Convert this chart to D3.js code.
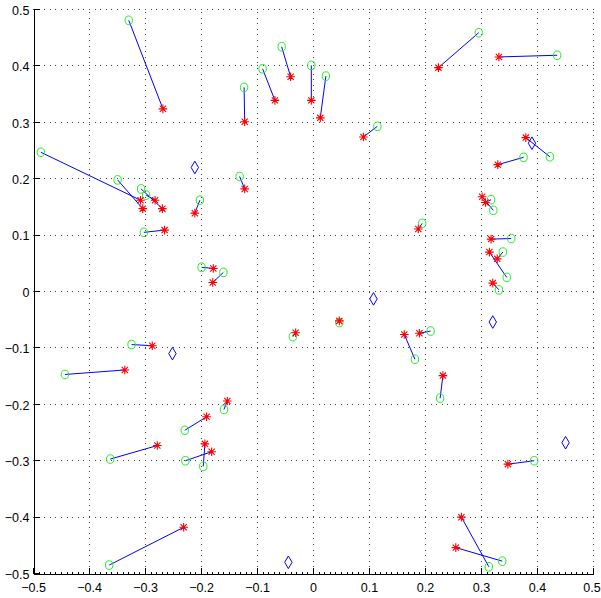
<!DOCTYPE html>
<html>
<head>
<meta charset="utf-8">
<script src="https://cdn.jsdelivr.net/npm/d3@7"></script>
<style>
  html, body { margin: 0; padding: 0; background: #fff; }
  svg { display: block; }
</style>
</head>
<body>
<script>
// Green circles (one end of each pair)
const circleX = [-0.329, -0.486, -0.349, -0.307, -0.298, -0.302, -0.202, -0.199, -0.160, -0.123,
                 -0.131, -0.090, -0.056, -0.003, 0.023, 0.115, 0.296, 0.436, 0.423, 0.376,
                 0.322, 0.318, 0.195, 0.354, 0.346, 0.339, 0.332, -0.324, -0.443, -0.229,
                 -0.159, -0.362, -0.228, -0.196, -0.364, -0.036, 0.047, 0.182, 0.210, 0.227,
                 0.395, 0.314, 0.338];
const circleY = [0.480, 0.246, 0.197, 0.181, 0.170, 0.104, 0.161, 0.042, 0.033, 0.361,
                 0.203, 0.394, 0.433, 0.400, 0.381, 0.292, 0.458, 0.418, 0.238, 0.237,
                 0.143, 0.162, 0.120, 0.093, 0.024, 0.069, 0.002, -0.095, -0.148, -0.247,
                 -0.210, -0.298, -0.301, -0.311, -0.486, -0.081, -0.056, -0.121, -0.071, -0.190,
                 -0.301, -0.489, -0.479];
// Red stars (other end of each pair)
const starX = [-0.268, -0.308, -0.304, -0.269, -0.282, -0.265, -0.211, -0.178, -0.179, -0.122,
               -0.122, -0.068, -0.040, -0.003, 0.013, 0.090, 0.224, 0.332, 0.380, 0.330,
               0.302, 0.308, 0.188, 0.318, 0.315, 0.329, 0.321, -0.287, -0.336, -0.190,
               -0.153, -0.278, -0.181, -0.193, -0.231, -0.031, 0.047, 0.163, 0.190, 0.232,
               0.348, 0.265, 0.255];
const starY = [0.323, 0.161, 0.146, 0.146, 0.161, 0.108, 0.138, 0.040, 0.015, 0.300,
               0.181, 0.338, 0.380, 0.338, 0.307, 0.273, 0.396, 0.415, 0.272, 0.224,
               0.167, 0.157, 0.110, 0.092, 0.069, 0.057, 0.014, -0.097, -0.140, -0.223,
               -0.195, -0.274, -0.285, -0.271, -0.419, -0.074, -0.053, -0.077, -0.075, -0.150,
               -0.307, -0.401, -0.455];
// Blue diamonds
const diamondX = [-0.211, 0.391, 0.108, -0.251, -0.044, 0.321, 0.451];
const diamondY = [0.219, 0.262, -0.014, -0.111, -0.481, -0.055, -0.269];

const xTicks = [-0.5, -0.4, -0.3, -0.2, -0.1, 0, 0.1, 0.2, 0.3, 0.4, 0.5];
const yTicks = [-0.5, -0.4, -0.3, -0.2, -0.1, 0, 0.1, 0.2, 0.3, 0.4, 0.5];
const minorTicks = d3.range(-50, 51).map(d => d / 100);

const W = 601, H = 598;
const L = 33, R = 593, T = 9, B = 573;

const svg = d3.select("body").append("svg").attr("width", W).attr("height", H);
svg.append("rect").attr("width", W).attr("height", H).attr("fill", "#fff");

const x = d3.scaleLinear().domain([-0.5, 0.5]).range([L, R]);
const y = d3.scaleLinear().domain([-0.5, 0.5]).range([B, T]);

const fmt = d => d === 0 ? "0" : d3.format(".1f")(d);
const FONT = "Liberation Sans, Arial, sans-serif";

// dotted grid
const grid = svg.append("g").attr("stroke", "#444").attr("stroke-width", 1)
  .attr("stroke-dasharray", "1,4.6").attr("shape-rendering", "crispEdges");
grid.selectAll("line.gx").data(xTicks.filter(d => d !== -0.5)).join("line")
  .attr("class", "gx")
  .attr("x1", d => x(d) + 0.5).attr("x2", d => x(d) + 0.5)
  .attr("y1", B).attr("y2", T);
grid.selectAll("line.gy").data(yTicks.filter(d => d !== -0.5)).join("line")
  .attr("class", "gy")
  .attr("x1", L).attr("x2", R + 1)
  .attr("y1", d => y(d) + 0.5).attr("y2", d => y(d) + 0.5);

// minor ticks
svg.append("g").attr("transform", `translate(0,${B + 0.5})`)
  .call(d3.axisBottom(x).tickValues(minorTicks).tickSizeInner(-1.5).tickSizeOuter(0).tickFormat(""))
  .call(g => g.select(".domain").remove())
  .attr("shape-rendering", "crispEdges");
svg.append("g").attr("transform", `translate(${L + 0.5},0)`)
  .call(d3.axisLeft(y).tickValues(minorTicks).tickSizeInner(-1.5).tickSizeOuter(0).tickFormat(""))
  .call(g => g.select(".domain").remove())
  .attr("shape-rendering", "crispEdges");

// major axes
const xAxis = svg.append("g").attr("transform", `translate(0,${B + 0.5})`)
  .call(d3.axisBottom(x).tickValues(xTicks).tickSizeInner(-6).tickSizeOuter(0).tickPadding(10).tickFormat(fmt))
  .attr("shape-rendering", "crispEdges");
xAxis.selectAll(".tick text").attr("font-family", FONT).attr("font-size", 12.5).attr("fill", "#000")
  .attr("dx", d => d === 0.5 ? -1.5 : 0);
xAxis.select(".domain").attr("stroke", "#000");

const yAxis = svg.append("g").attr("transform", `translate(${L + 0.5},0)`)
  .call(d3.axisLeft(y).tickValues(yTicks).tickSizeInner(-6).tickSizeOuter(0).tickPadding(4).tickFormat(fmt))
  .attr("shape-rendering", "crispEdges");
yAxis.selectAll(".tick text").attr("font-family", FONT).attr("font-size", 12.5).attr("fill", "#000")
  .attr("dy", "0.42em");
yAxis.select(".domain").attr("stroke", "#000");

// connecting lines
const pairs = circleX.map((cx, i) => ({cx, cy: circleY[i], sx: starX[i], sy: starY[i]}));
svg.append("g").selectAll("line").data(pairs).join("line")
  .attr("x1", d => x(d.cx)).attr("y1", d => y(d.cy))
  .attr("x2", d => x(d.sx)).attr("y2", d => y(d.sy))
  .attr("stroke", "#0000ff").attr("stroke-width", 1);

// green circles
svg.append("g").selectAll("ellipse").data(pairs).join("ellipse")
  .attr("cx", d => x(d.cx)).attr("cy", d => y(d.cy))
  .attr("rx", 3.7).attr("ry", 4.3)
  .attr("fill", "none").attr("stroke", "#22ee22").attr("stroke-width", 1);

// red stars
const r = 4.3, rd = 3.1;
const starPath = `M${-r},0L${r},0M0,${-r}L0,${r}M${-rd},${-rd}L${rd},${rd}M${-rd},${rd}L${rd},${-rd}`;
svg.append("g").selectAll("path").data(pairs).join("path")
  .attr("transform", d => `translate(${x(d.sx)},${y(d.sy)})`)
  .attr("d", starPath)
  .attr("fill", "none").attr("stroke", "#ff0000").attr("stroke-width", 1.1);

// blue diamonds
const diamonds = diamondX.map((dx, i) => ({dx, dy: diamondY[i]}));
svg.append("g").selectAll("path").data(diamonds).join("path")
  .attr("transform", d => `translate(${x(d.dx)},${y(d.dy)})`)
  .attr("d", "M0,-6.3L3.7,0L0,6.3L-3.7,0Z")
  .attr("fill", "none").attr("stroke", "#0000ff").attr("stroke-width", 1);
</script>
</body>
</html>
